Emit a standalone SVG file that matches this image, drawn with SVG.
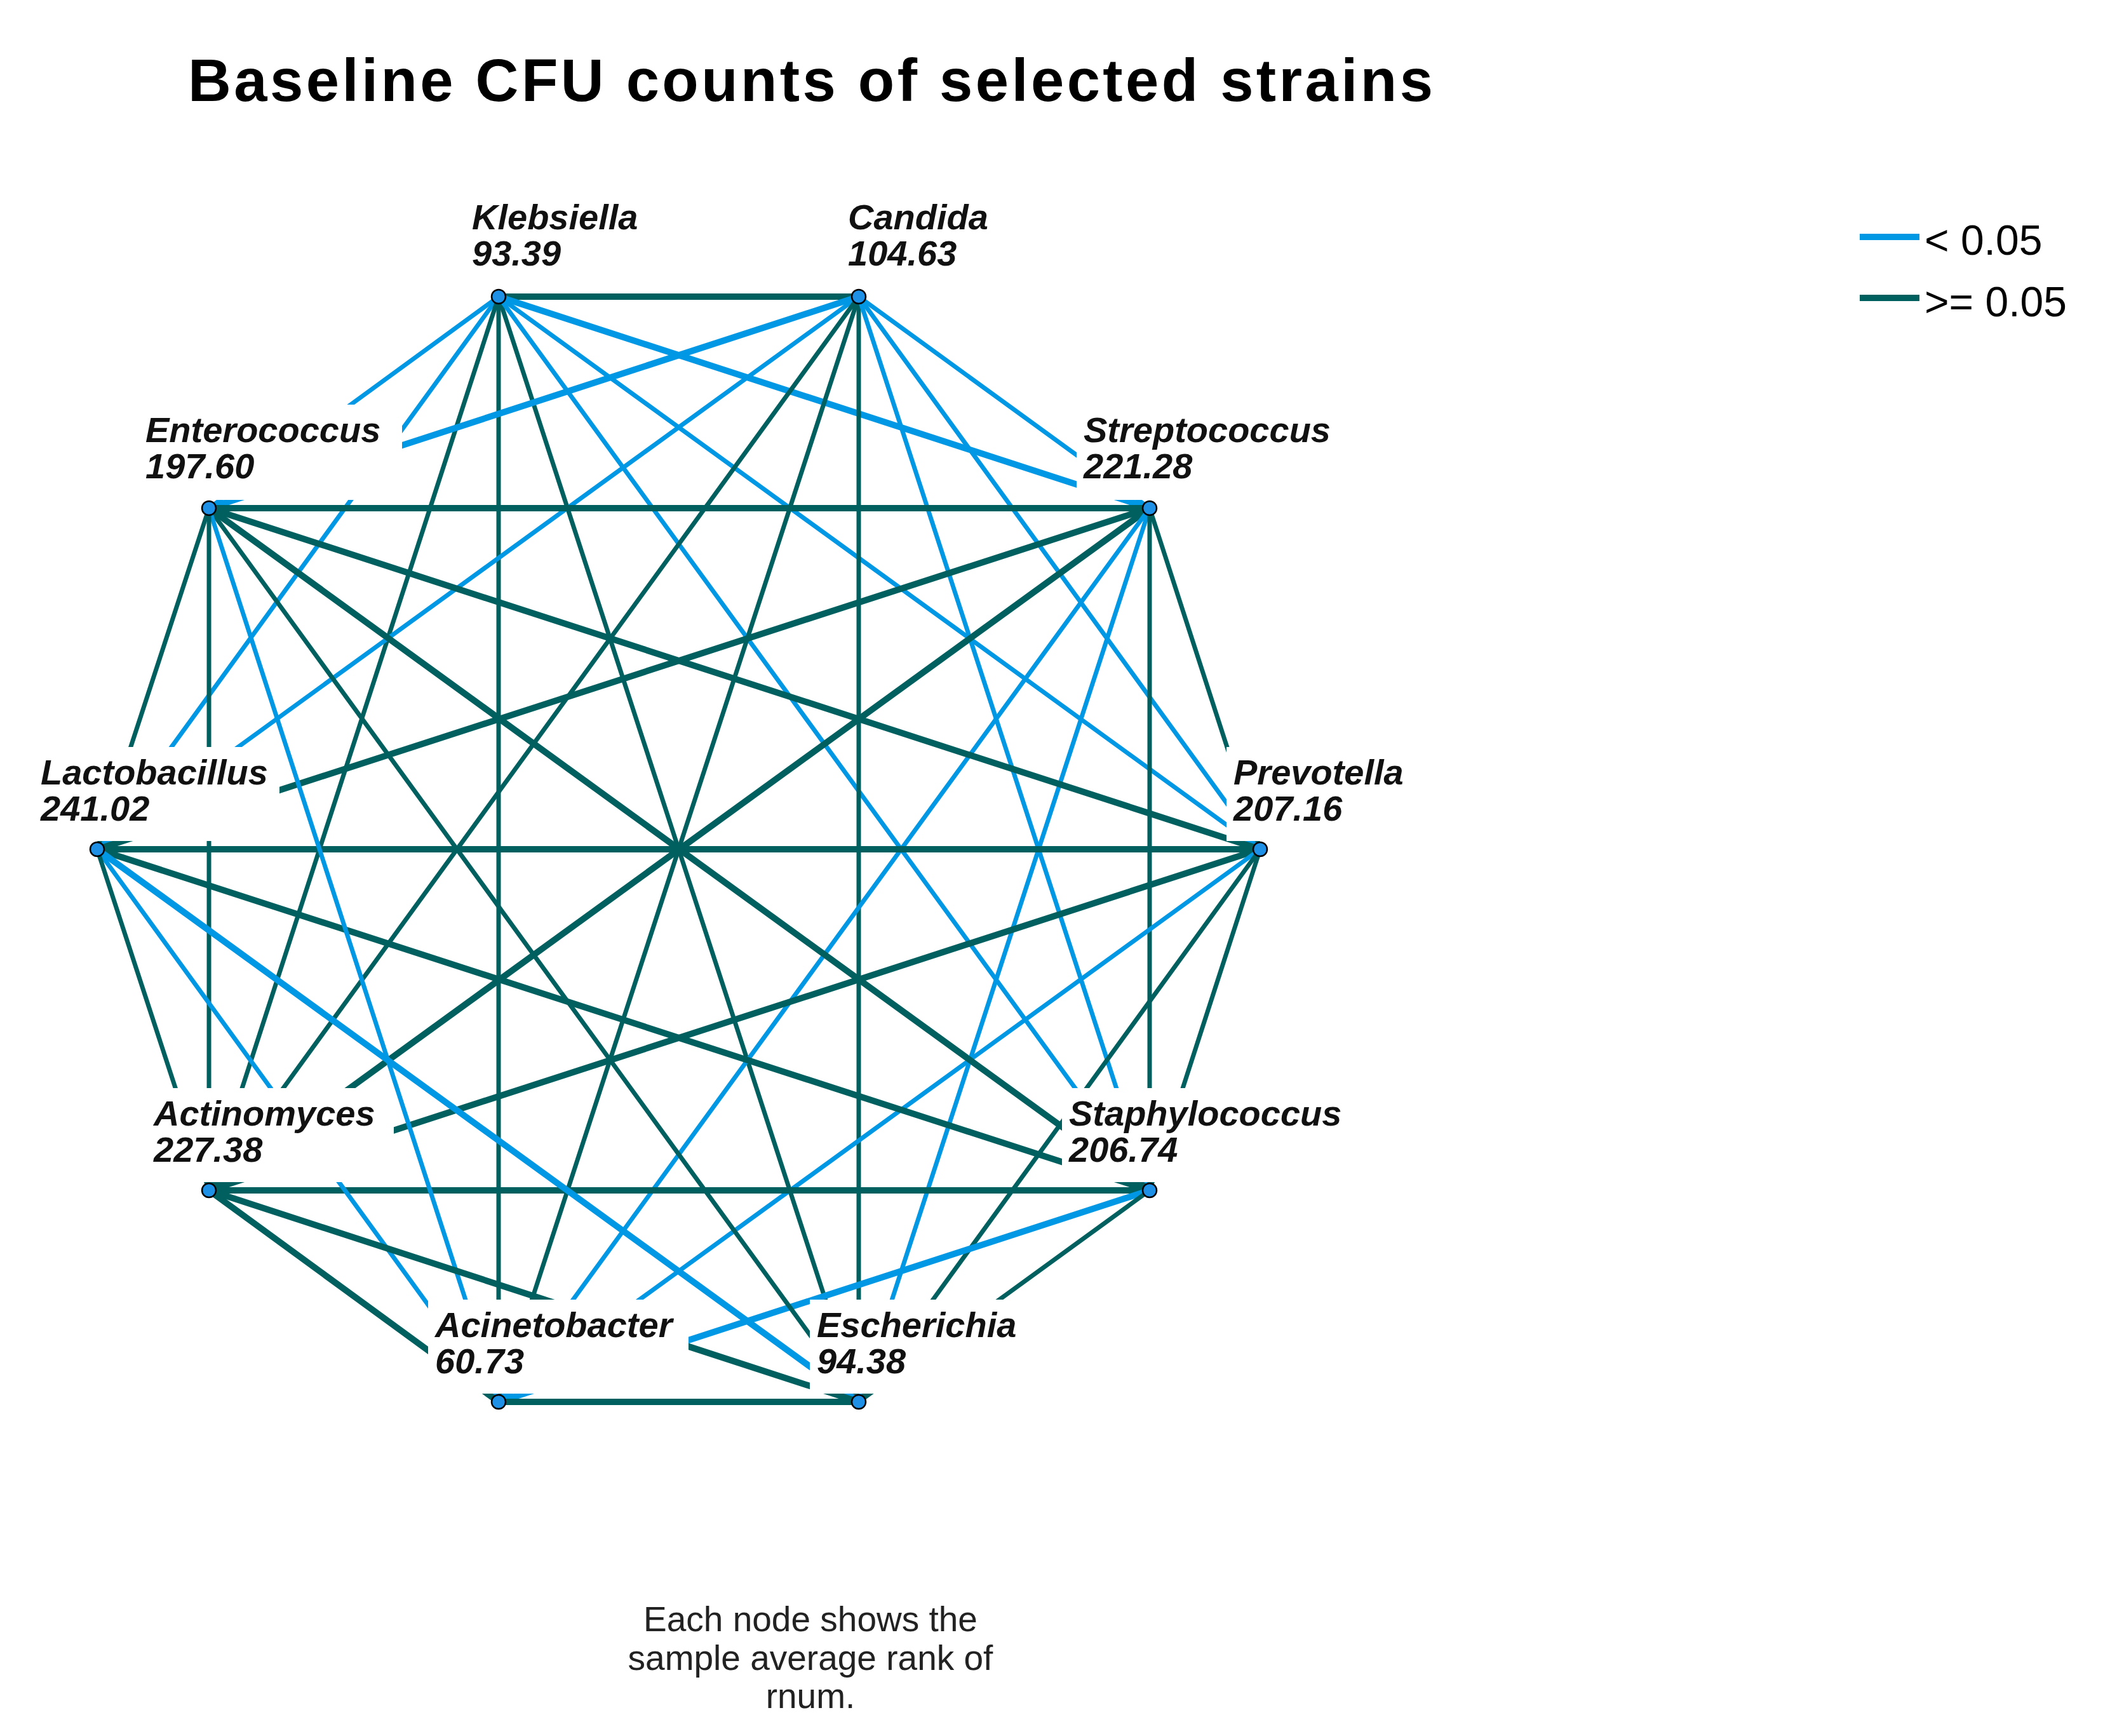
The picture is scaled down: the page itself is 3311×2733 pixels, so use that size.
<svg xmlns="http://www.w3.org/2000/svg" width="3311" height="2733" viewBox="0 0 3311 2733">
<style>
.b{stroke:#0098e4;stroke-width:7;fill:none}
.t{stroke:#00605f;stroke-width:7;fill:none}
.w{stroke-width:10}
.lbl{font-family:"Liberation Sans",Arial,sans-serif;font-weight:bold;font-style:italic;font-size:56px;fill:#111}
.m{fill:#fff}
.n{fill:#1e90e6;stroke:#000;stroke-width:2.5}
</style>
<rect width="3311" height="2733" fill="#fff"/>
<text x="296" y="159" font-family="Liberation Sans,Arial,sans-serif" font-weight="bold" font-size="94" textLength="1960" fill="#000">Baseline CFU counts of selected strains</text>
<g id="connectors">
<line class="t w" x1="785" y1="467" x2="1352" y2="467"/>
<line class="b" x1="785" y1="467" x2="329" y2="800"/>
<line class="b" x1="785" y1="467" x2="153" y2="1337"/>
<line class="t" x1="785" y1="467" x2="329" y2="1874"/>
<line class="t" x1="785" y1="467" x2="785" y2="2207"/>
<line class="t" x1="785" y1="467" x2="1352" y2="2207"/>
<line class="b" x1="785" y1="467" x2="1810" y2="1874"/>
<line class="b" x1="785" y1="467" x2="1984" y2="1337"/>
<line class="b w" x1="785" y1="467" x2="1810" y2="800"/>
<line class="b w" x1="1352" y1="467" x2="329" y2="800"/>
<line class="b" x1="1352" y1="467" x2="153" y2="1337"/>
<line class="t" x1="1352" y1="467" x2="329" y2="1874"/>
<line class="t" x1="1352" y1="467" x2="785" y2="2207"/>
<line class="t" x1="1352" y1="467" x2="1352" y2="2207"/>
<line class="b" x1="1352" y1="467" x2="1810" y2="1874"/>
<line class="b" x1="1352" y1="467" x2="1984" y2="1337"/>
<line class="b" x1="1352" y1="467" x2="1810" y2="800"/>
<line class="t w" x1="1810" y1="800" x2="329" y2="800"/>
<line class="t w" x1="1810" y1="800" x2="153" y2="1337"/>
<line class="t w" x1="1810" y1="800" x2="329" y2="1874"/>
<line class="b" x1="1810" y1="800" x2="785" y2="2207"/>
<line class="b" x1="1810" y1="800" x2="1352" y2="2207"/>
<line class="t" x1="1810" y1="800" x2="1810" y2="1874"/>
<line class="t" x1="1810" y1="800" x2="1984" y2="1337"/>
<line class="t w" x1="1984" y1="1337" x2="329" y2="800"/>
<line class="t w" x1="1984" y1="1337" x2="153" y2="1337"/>
<line class="t w" x1="1984" y1="1337" x2="329" y2="1874"/>
<line class="b" x1="1984" y1="1337" x2="785" y2="2207"/>
<line class="t" x1="1984" y1="1337" x2="1352" y2="2207"/>
<line class="t" x1="1984" y1="1337" x2="1810" y2="1874"/>
<line class="t w" x1="1810" y1="1874" x2="329" y2="800"/>
<line class="t w" x1="1810" y1="1874" x2="153" y2="1337"/>
<line class="t w" x1="1810" y1="1874" x2="329" y2="1874"/>
<line class="b w" x1="1810" y1="1874" x2="785" y2="2207"/>
<line class="t" x1="1810" y1="1874" x2="1352" y2="2207"/>
<line class="t" x1="329" y1="800" x2="1352" y2="2207"/>
<line class="b" x1="329" y1="800" x2="785" y2="2207"/>
<line class="t" x1="329" y1="800" x2="153" y2="1337"/>
<line class="t" x1="329" y1="800" x2="329" y2="1874"/>
<line class="b w" x1="153" y1="1337" x2="1352" y2="2207"/>
<line class="b" x1="153" y1="1337" x2="785" y2="2207"/>
<line class="t" x1="153" y1="1337" x2="329" y2="1874"/>
<line class="t w" x1="329" y1="1874" x2="785" y2="2207"/>
<line class="t w" x1="329" y1="1874" x2="1352" y2="2207"/>
<line class="t w" x1="785" y1="2207" x2="1352" y2="2207"/>
</g>
<g id="masks">
<rect class="m" x="732" y="302" width="298" height="152"/>
<rect class="m" x="1324" y="302" width="256" height="152"/>
<rect class="m" x="218" y="637" width="415" height="150"/>
<rect class="m" x="1695" y="637" width="423" height="150"/>
<rect class="m" x="53" y="1176" width="387" height="148"/>
<rect class="m" x="1931" y="1176" width="299" height="148"/>
<rect class="m" x="231" y="1713" width="389" height="148"/>
<rect class="m" x="1672" y="1713" width="458" height="148"/>
<rect class="m" x="674" y="2046" width="410" height="148"/>
<rect class="m" x="1275" y="2046" width="340" height="148"/>
</g>
<g id="n-klebsiella"><circle class="n" cx="785" cy="467" r="11"/><text class="lbl" x="743" y="361">Klebsiella</text><text class="lbl" x="743" y="418">93.39</text></g>
<g id="n-candida"><circle class="n" cx="1352" cy="467" r="11"/><text class="lbl" x="1335" y="361">Candida</text><text class="lbl" x="1335" y="418">104.63</text></g>
<g id="n-enterococcus"><circle class="n" cx="329" cy="800" r="11"/><text class="lbl" x="229" y="696">Enterococcus</text><text class="lbl" x="229" y="753">197.60</text></g>
<g id="n-streptococcus"><circle class="n" cx="1810" cy="800" r="11"/><text class="lbl" x="1706" y="696">Streptococcus</text><text class="lbl" x="1706" y="753">221.28</text></g>
<g id="n-lactobacillus"><circle class="n" cx="153" cy="1337" r="11"/><text class="lbl" x="64" y="1235">Lactobacillus</text><text class="lbl" x="64" y="1292">241.02</text></g>
<g id="n-prevotella"><circle class="n" cx="1984" cy="1337" r="11"/><text class="lbl" x="1942" y="1235">Prevotella</text><text class="lbl" x="1942" y="1292">207.16</text></g>
<g id="n-actinomyces"><circle class="n" cx="329" cy="1874" r="11"/><text class="lbl" x="242" y="1772">Actinomyces</text><text class="lbl" x="242" y="1829">227.38</text></g>
<g id="n-staphylococcus"><circle class="n" cx="1810" cy="1874" r="11"/><text class="lbl" x="1683" y="1772">Staphylococcus</text><text class="lbl" x="1683" y="1829">206.74</text></g>
<g id="n-acinetobacter"><circle class="n" cx="785" cy="2207" r="11"/><text class="lbl" x="685" y="2105">Acinetobacter</text><text class="lbl" x="685" y="2162">60.73</text></g>
<g id="n-escherichia"><circle class="n" cx="1352" cy="2207" r="11"/><text class="lbl" x="1286" y="2105">Escherichia</text><text class="lbl" x="1286" y="2162">94.38</text></g>
<g id="legend" font-family="Liberation Sans,Arial,sans-serif" font-size="66" fill="#000">
<line class="b w" x1="2928" y1="373" x2="3022" y2="373"/>
<line class="t w" x1="2928" y1="469" x2="3022" y2="469"/>
<text x="3030" y="401">&lt; 0.05</text>
<text x="3030" y="498">&gt;= 0.05</text>
</g>
<g id="footer" font-family="Liberation Sans,Arial,sans-serif" font-size="55" fill="#222" text-anchor="middle">
<text x="1276" y="2568">Each node shows the</text>
<text x="1276" y="2629">sample average rank of</text>
<text x="1276" y="2689">rnum.</text>
</g>
</svg>
